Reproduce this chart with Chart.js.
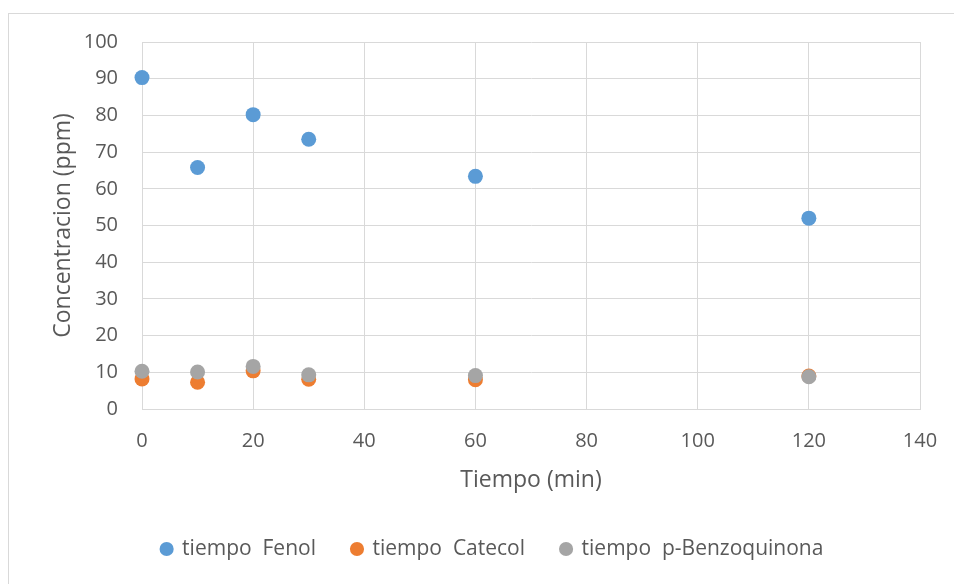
<!DOCTYPE html>
<html lang="es">
  <head>
    <meta charset="UTF-8" />
    <title>Concentracion vs Tiempo</title>
    <script src="https://cdn.jsdelivr.net/npm/chart.js"></script>
    <style>
      body {
        margin: 0;
        overflow: hidden;
        background: #fff;
        font-family: "Open Sans", sans-serif;
      }
      .frame {
        position: absolute;
        left: 8px;
        top: 13px;
        width: 980px;
        height: 600px;
        border: 1px solid #d9d9d9;
      }
      .chart-box {
        position: absolute;
        left: 0;
        top: 0;
        width: 954px;
        height: 584px;
      }
    </style>
  </head>
  <body>
    <div class="frame"></div>
    <div class="chart-box">
      <canvas id="scatterChart" width="954" height="584"></canvas>
    </div>

    <script>
      // tiempo (min)
      const tiempo = [0, 10, 20, 30, 60, 120];

      // concentracion (ppm)
      const fenol = [90.3, 65.8, 80.2, 73.5, 63.4, 52.0];
      const catecol = [8.2, 7.3, 10.4, 8.1, 8.0, 9.0];
      const benzoquinona = [10.3, 10.1, 11.6, 9.3, 9.1, 8.8];

      const seriesNames = ["tiempo  Fenol", "tiempo  Catecol", "tiempo  p-Benzoquinona"];
      const seriesColors = ["#5B9BD5", "#ED7D31", "#A5A5A5"];

      const toPoints = (ys) => tiempo.map((t, i) => ({ x: t, y: ys[i] }));
      const allSeries = [fenol, catecol, benzoquinona];

      const textColor = "#595959";
      const gridColor = "#d9d9d9";

      // the legend in the original is centred on the whole (wider) chart frame
      const shiftLegend = {
        id: "shiftLegend",
        afterLayout(chart) {
          if (chart.legend) chart.legend.left += 65;
        },
      };

      new Chart(document.getElementById("scatterChart"), {
        type: "scatter",
        data: {
          datasets: allSeries.map((ys, i) => ({
            label: seriesNames[i],
            data: toPoints(ys),
            backgroundColor: seriesColors[i],
            borderColor: seriesColors[i],
            pointRadius: 7.5,
            pointHoverRadius: 7.5,
            borderWidth: 0,
            clip: false,
            // later series drawn on top, as in the original
            order: allSeries.length - i,
          })),
        },
        plugins: [shiftLegend],
        options: {
          responsive: false,
          animation: false,
          layout: {
            padding: { left: 0, right: 34, top: 42, bottom: 14.5 },
          },
          plugins: {
            tooltip: { enabled: false },
            legend: {
              position: "bottom",
              labels: {
                usePointStyle: true,
                pointStyle: "circle",
                boxWidth: 10,
                boxHeight: 10,
                padding: 36,
                color: textColor,
                font: { family: "Open Sans", size: 21 },
                sort: (a, b) => a.datasetIndex - b.datasetIndex,
              },
            },
          },
          scales: {
            x: {
              type: "linear",
              min: 0,
              max: 140,
              ticks: {
                stepSize: 20,
                padding: 2,
                color: textColor,
                font: { family: "Open Sans", size: 20 },
              },
              grid: {
                color: gridColor,
                drawTicks: true,
                tickLength: 18,
                tickColor: "rgba(0,0,0,0)",
              },
              border: { color: gridColor },
              title: {
                display: true,
                text: "Tiempo (min)",
                color: textColor,
                font: { family: "Open Sans", size: 23 },
                padding: { top: 0, bottom: 8 },
              },
              afterFit: (scale) => {
                scale.height = 93.5;
              },
            },
            y: {
              min: 0,
              max: 100,
              ticks: {
                stepSize: 10,
                padding: 24,
                color: textColor,
                font: { family: "Open Sans", size: 20 },
              },
              grid: { color: gridColor, drawTicks: false },
              border: { color: gridColor },
              title: {
                display: true,
                text: "Concentracion (ppm)",
                color: textColor,
                font: { family: "Open Sans", size: 23 },
                padding: { top: 50, bottom: 0 },
              },
              afterFit: (scale) => {
                scale.width = 142;
              },
            },
          },
        },
      });
    </script>
  </body>
</html>
